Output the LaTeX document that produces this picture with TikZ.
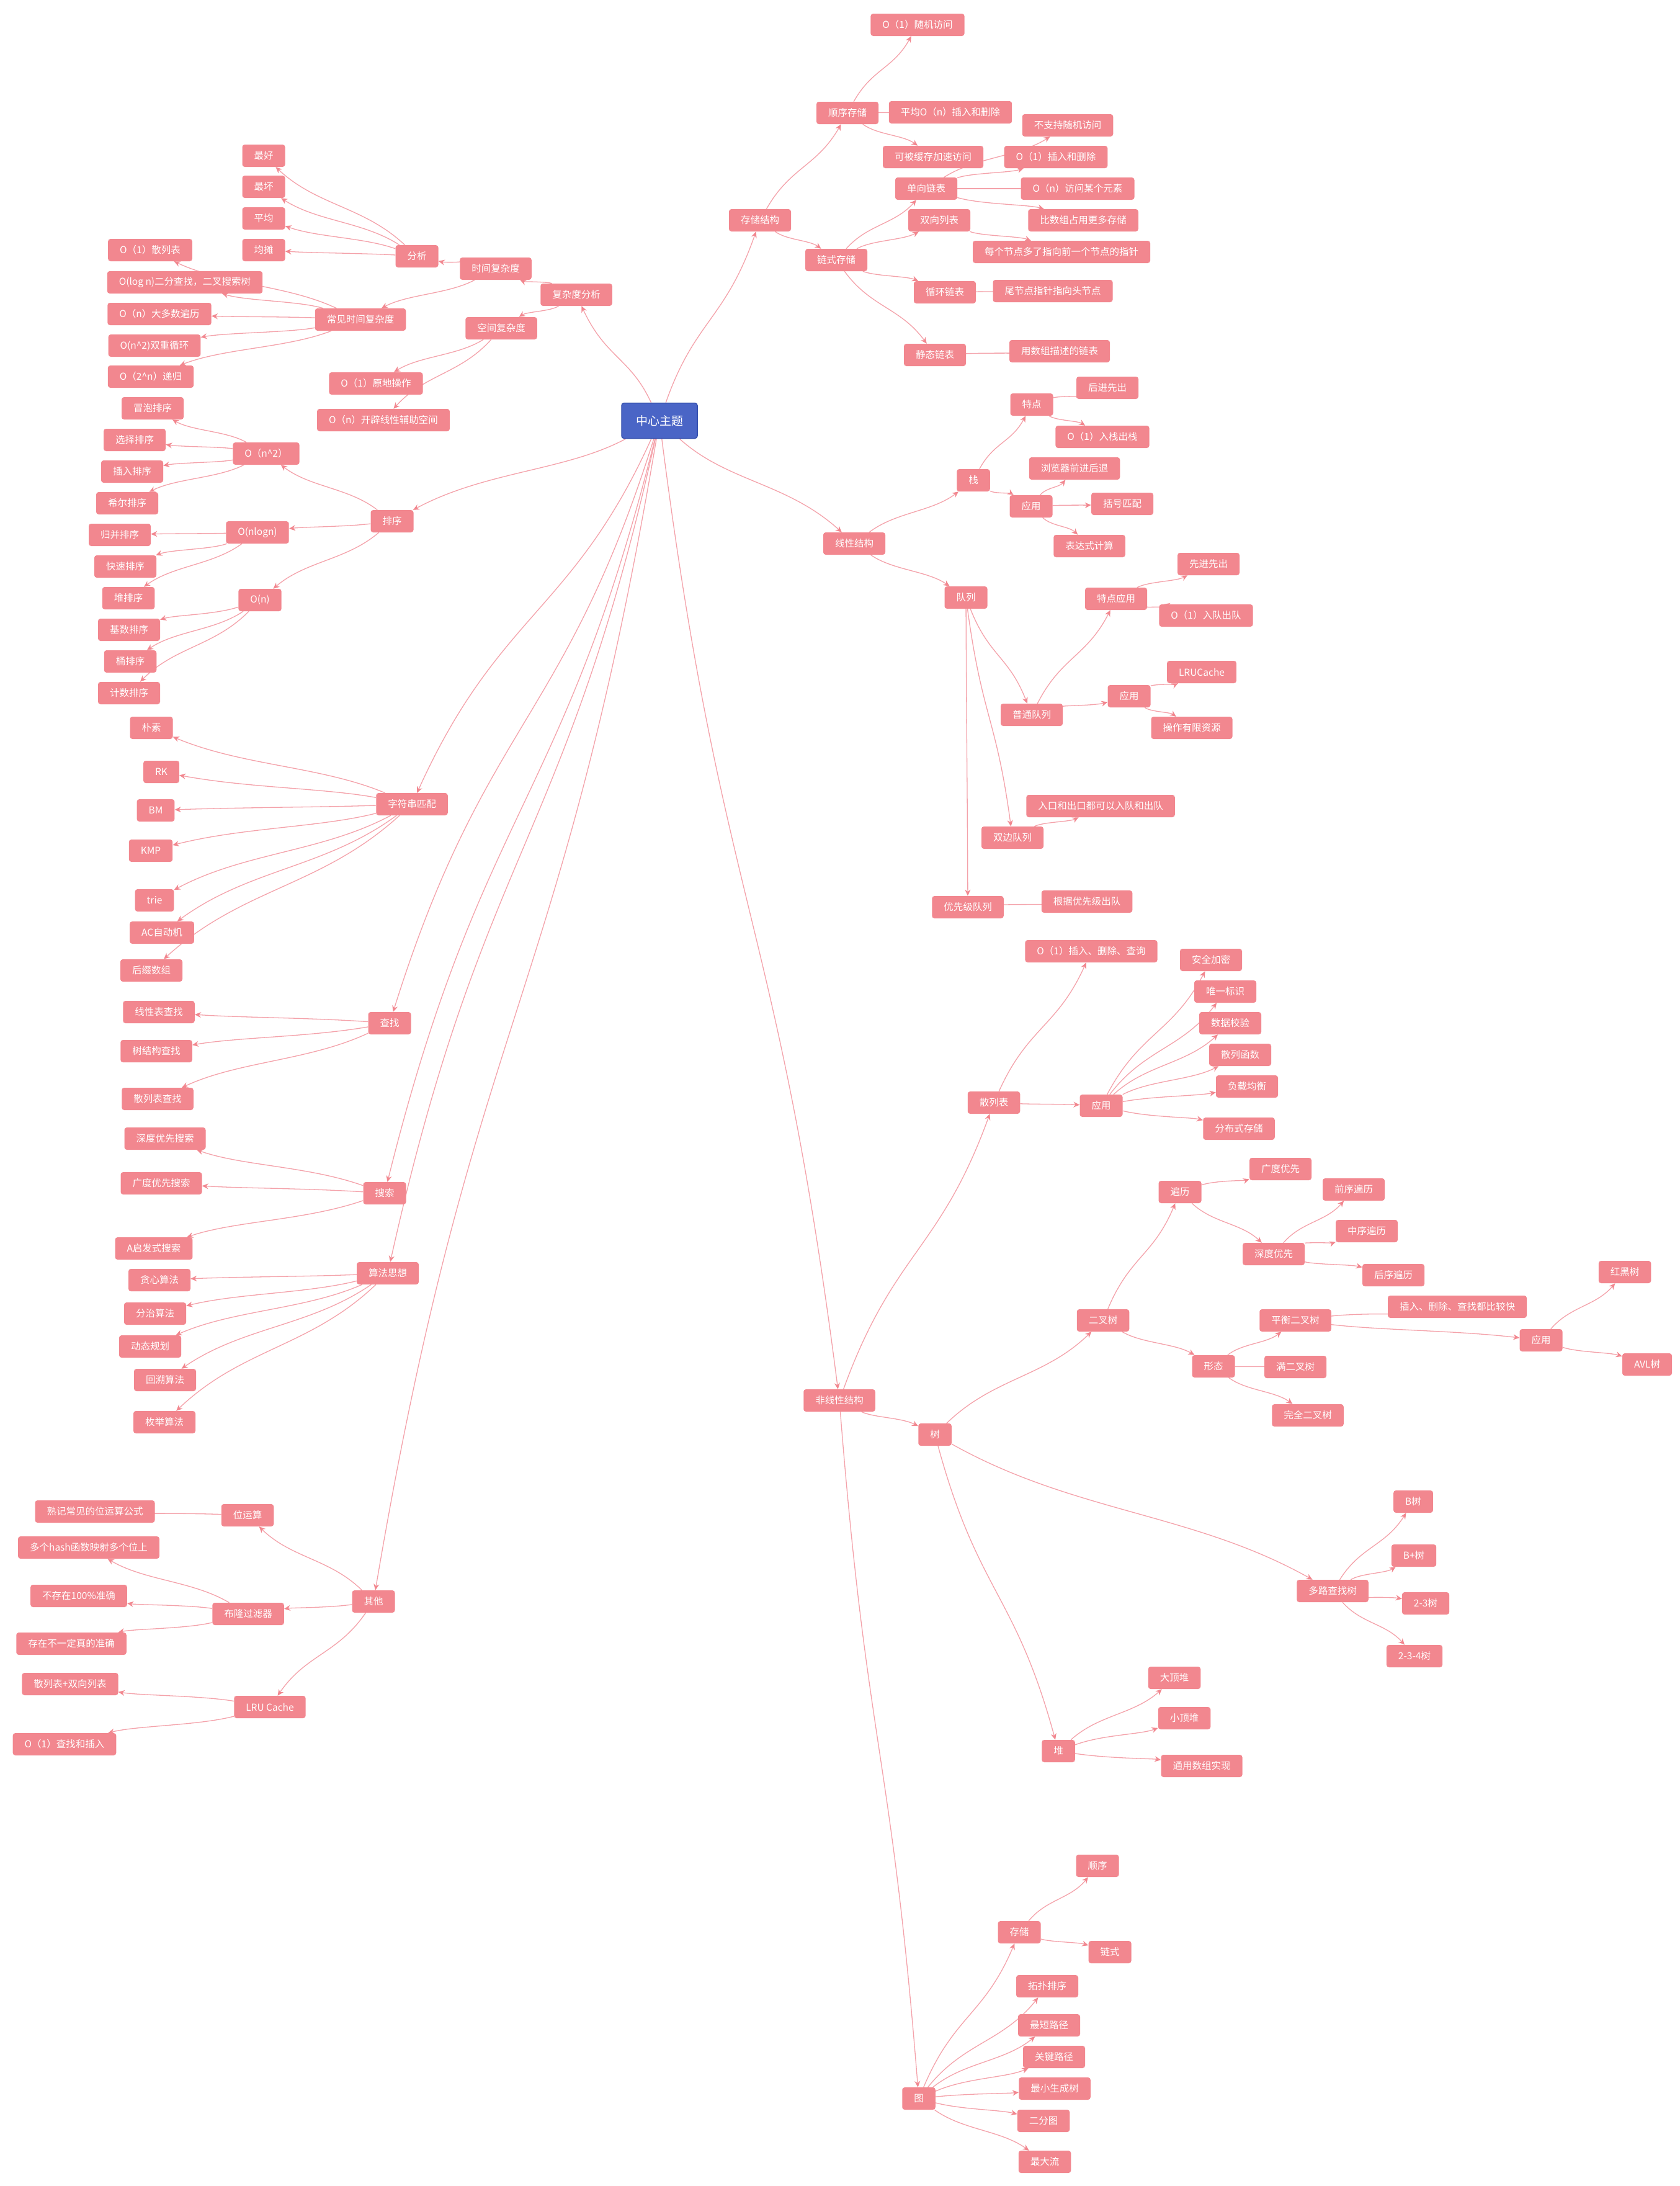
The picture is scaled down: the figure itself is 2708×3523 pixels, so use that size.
\documentclass[tikz,border=0pt]{standalone}
\usepackage{fontspec}
\setmainfont{Noto Sans CJK SC}
\usepackage{xcolor}
\definecolor{colorTopic}{HTML}{F2878F}
\definecolor{colorLink}{HTML}{F4A2AA}
\definecolor{colorRoot}{HTML}{4A65C6}
\definecolor{colorRootBorder}{HTML}{3550AE}
\usetikzlibrary{arrows.meta, calc, backgrounds}
\tikzset{
  topic/.style={rectangle, rounded corners=4pt, fill=colorTopic, text=white, font=\fontsize{15.5}{18}\selectfont, inner xsep=19pt, inner ysep=0pt, minimum height=36pt},
  root/.style={topic, fill=colorRoot, draw=colorRootBorder, line width=1.5pt, font=\fontsize{19}{22}\selectfont, minimum width=122pt, minimum height=57pt},
  link/.style={draw=colorLink, line width=1.3pt, ->, to path={let \p1=($(\tikztotarget)-(\tikztostart)$) in .. controls ($(\tikztostart)+({0.35*(\x1)},{0.5*(\y1)})$) and ($(\tikztotarget)-({0.35*(\x1)},{0.5*(\y1)})$) .. (\tikztotarget) \tikztonodes}}
}

\begin{document}
\begin{tikzpicture}[x=1pt, y=-1pt, >={Stealth[length=10pt,width=9pt,color=colorTopic]}]
\useasboundingbox (0,0) rectangle (2708,3523);
\node[root] (root) at (1063,678) {中心主题};
\node[topic] (store) at (1225,355) {存储结构};
\node[topic] (seq) at (1366,182) {顺序存储};
\node[topic] (rand) at (1479,40) {O（1）随机访问};
\node[topic] (seqins) at (1532,181) {平均O（n）插入和删除};
\node[topic] (cache) at (1504,253) {可被缓存加速访问};
\node[topic] (chain) at (1348,419) {链式存储};
\node[topic] (single) at (1493,304) {单向链表};
\node[topic] (nora) at (1721,202) {不支持随机访问};
\node[topic] (llins) at (1702,253) {O（1）插入和删除};
\node[topic] (llacc) at (1737,304) {O（n）访问某个元素};
\node[topic] (llmem) at (1746,355) {比数组占用更多存储};
\node[topic] (double) at (1514,355) {双向列表};
\node[topic] (dprev) at (1711,406) {每个节点多了指向前一个节点的指针};
\node[topic] (circ) at (1523,471) {循环链表};
\node[topic] (circd) at (1697,469) {尾节点指针指向头节点};
\node[topic] (static) at (1507,572) {静态链表};
\node[topic] (staticd) at (1708,566) {用数组描述的链表};
\node[topic] (cplx) at (929,475) {复杂度分析};
\node[topic] (timec) at (799,433) {时间复杂度};
\node[topic] (analy) at (672,413) {分析};
\node[topic] (best) at (425,251) {最好};
\node[topic] (worst) at (425,301) {最坏};
\node[topic] (avg) at (425,352) {平均};
\node[topic] (amort) at (425,403) {均摊};
\node[topic] (common) at (581,515) {常见时间复杂度};
\node[topic] (o1hash) at (242,403) {O（1）散列表};
\node[topic] (ologn) at (298,455) {O(log n)二分查找，二叉搜索树};
\node[topic] (on) at (257,506) {O（n）大多数遍历};
\node[topic] (on2) at (249,557) {O(n\textasciicircum 2)双重循环};
\node[topic] (o2n) at (243,607) {O（2\textasciicircum n）递归};
\node[topic] (space) at (808,529) {空间复杂度};
\node[topic] (sp1) at (606,618) {O（1）原地操作};
\node[topic] (spn) at (618,677) {O（n）开辟线性辅助空间};
\node[topic] (sort) at (632,840) {排序};
\node[topic] (n2) at (429,731) {O（n\textasciicircum 2）};
\node[topic] (bubble) at (246,658) {冒泡排序};
\node[topic] (select) at (217,709) {选择排序};
\node[topic] (insert) at (213,760) {插入排序};
\node[topic] (shell) at (205,811) {希尔排序};
\node[topic] (nlogn) at (415,858) {O(nlogn)};
\node[topic] (merge) at (193,862) {归并排序};
\node[topic] (quick) at (202,913) {快速排序};
\node[topic] (heaps) at (207,964) {堆排序};
\node[topic] (linn) at (419,967) {O(n)};
\node[topic] (radix) at (208,1015) {基数排序};
\node[topic] (bucket) at (210,1066) {桶排序};
\node[topic] (count) at (208,1117) {计数排序};
\node[topic] (strm) at (664,1296) {字符串匹配};
\node[topic] (naive) at (244,1173) {朴素};
\node[topic] (rk) at (260,1244) {RK};
\node[topic] (bm) at (251,1306) {BM};
\node[topic] (kmp) at (243,1371) {KMP};
\node[topic] (trie) at (249,1451) {trie};
\node[topic] (ac) at (261,1503) {AC自动机};
\node[topic] (suffix) at (244,1564) {后缀数组};
\node[topic] (find) at (628,1649) {查找};
\node[topic] (linsearch) at (256,1631) {线性表查找};
\node[topic] (treesearch) at (252,1694) {树结构查找};
\node[topic] (hashsearch) at (254,1771) {散列表查找};
\node[topic] (srch) at (620,1923) {搜索};
\node[topic] (dfs) at (266,1835) {深度优先搜索};
\node[topic] (bfs) at (260,1907) {广度优先搜索};
\node[topic] (astar) at (248,2012) {A启发式搜索};
\node[topic] (algo) at (625,2052) {算法思想};
\node[topic] (greedy) at (257,2063) {贪心算法};
\node[topic] (dc) at (250,2117) {分治算法};
\node[topic] (dp) at (242,2170) {动态规划};
\node[topic] (backtrack) at (266,2224) {回溯算法};
\node[topic] (enum) at (265,2292) {枚举算法};
\node[topic] (other) at (602,2581) {其他};
\node[topic] (bit) at (399,2442) {位运算};
\node[topic] (bitformula) at (153,2436) {熟记常见的位运算公式};
\node[topic] (bloom) at (400,2601) {布隆过滤器};
\node[topic] (multihash) at (143,2494) {多个hash函数映射多个位上};
\node[topic] (not100) at (127,2572) {不存在100\%准确};
\node[topic] (exist) at (115,2649) {存在不一定真的准确};
\node[topic] (lru) at (435,2751) {LRU Cache};
\node[topic] (hashdl) at (113,2714) {散列表+双向列表};
\node[topic] (o1find) at (104,2811) {O（1）查找和插入};
\node[topic] (linear) at (1377,876) {线性结构};
\node[topic] (stack) at (1569,774) {栈};
\node[topic] (feat) at (1663,652) {特点};
\node[topic] (lifo) at (1785,625) {后进先出};
\node[topic] (push) at (1777,704) {O（1）入栈出栈};
\node[topic] (sapp) at (1662,816) {应用};
\node[topic] (browser) at (1732,755) {浏览器前进后退};
\node[topic] (bracket) at (1809,812) {括号匹配};
\node[topic] (expr) at (1756,880) {表达式计算};
\node[topic] (queue) at (1557,963) {队列};
\node[topic] (qfeat) at (1799,965) {特点应用};
\node[topic] (fifo) at (1948,909) {先进先出};
\node[topic] (enq) at (1944,992) {O（1）入队出队};
\node[topic] (normq) at (1663,1152) {普通队列};
\node[topic] (qapp) at (1820,1122) {应用};
\node[topic] (lrucache) at (1937,1083) {LRUCache};
\node[topic] (limited) at (1921,1173) {操作有限资源};
\node[topic] (deque) at (1632,1350) {双边队列};
\node[topic] (bothend) at (1774,1299) {入口和出口都可以入队和出队};
\node[topic] (prioq) at (1560,1462) {优先级队列};
\node[topic] (byprio) at (1752,1453) {根据优先级出队};
\node[topic] (nonlinear) at (1353,2257) {非线性结构};
\node[topic] (hashn) at (1602,1777) {散列表};
\node[topic] (hash1) at (1759,1533) {O（1）插入、删除、查询};
\node[topic] (happ) at (1775,1782) {应用};
\node[topic] (secure) at (1952,1547) {安全加密};
\node[topic] (uid) at (1975,1598) {唯一标识};
\node[topic] (check) at (1983,1649) {数据校验};
\node[topic] (hfunc) at (1999,1700) {散列函数};
\node[topic] (lb) at (2010,1751) {负载均衡};
\node[topic] (dist) at (1997,1819) {分布式存储};
\node[topic] (tree) at (1507,2312) {树};
\node[topic] (bintree) at (1778,2128) {二叉树};
\node[topic] (trav) at (1902,1921) {遍历};
\node[topic] (bfs2) at (2064,1884) {广度优先};
\node[topic] (dfs2) at (2053,2021) {深度优先};
\node[topic] (pre) at (2182,1917) {前序遍历};
\node[topic] (inord) at (2203,1984) {中序遍历};
\node[topic] (post) at (2246,2055) {后序遍历};
\node[topic] (form) at (1956,2202) {形态};
\node[topic] (balanced) at (2088,2128) {平衡二叉树};
\node[topic] (fast) at (2349,2106) {插入、删除、查找都比较快};
\node[topic] (tapp) at (2484,2160) {应用};
\node[topic] (rb) at (2619,2050) {红黑树};
\node[topic] (avl) at (2655,2199) {AVL树};
\node[topic] (full) at (2088,2203) {满二叉树};
\node[topic] (complete) at (2108,2281) {完全二叉树};
\node[topic] (multi) at (2148,2564) {多路查找树};
\node[topic] (btree) at (2278,2420) {B树};
\node[topic] (bplus) at (2279,2507) {B+树};
\node[topic] (t23) at (2298,2584) {2-3树};
\node[topic] (t234) at (2280,2669) {2-3-4树};
\node[topic] (heap) at (1706,2822) {堆};
\node[topic] (maxheap) at (1893,2704) {大顶堆};
\node[topic] (minheap) at (1909,2769) {小顶堆};
\node[topic] (arrimpl) at (1937,2846) {通用数组实现};
\node[topic] (graph) at (1481,3382) {图};
\node[topic] (gstore) at (1643,3114) {存储};
\node[topic] (gseq) at (1769,3007) {顺序};
\node[topic] (gchain) at (1789,3146) {链式};
\node[topic] (topo) at (1688,3201) {拓扑排序};
\node[topic] (shortest) at (1691,3264) {最短路径};
\node[topic] (critical) at (1699,3315) {关键路径};
\node[topic] (mst) at (1700,3366) {最小生成树};
\node[topic] (bip) at (1682,3418) {二分图};
\node[topic] (maxflow) at (1684,3484) {最大流};
\begin{scope}[on background layer]
\fill[white] (0,0) rectangle (2708,3523);
\path (root) edge[link] (store) edge[link] (linear) edge[link] (cplx) edge[link] (sort) edge[link] (strm) edge[link] (find) edge[link] (srch) edge[link] (algo) edge[link] (other) edge[link] (nonlinear);
\path (store) edge[link] (seq) edge[link] (chain);
\path (seq) edge[link] (rand) edge[link] (seqins) edge[link] (cache);
\path (chain) edge[link] (single) edge[link] (double) edge[link] (circ) edge[link] (static);
\path (single) edge[link] (nora) edge[link] (llins) edge[link] (llacc) edge[link] (llmem);
\path (double) edge[link] (dprev);
\path (circ) edge[link] (circd);
\path (static) edge[link] (staticd);
\path (cplx) edge[link] (timec) edge[link] (space);
\path (timec) edge[link] (analy) edge[link] (common);
\path (analy) edge[link] (best) edge[link] (worst) edge[link] (avg) edge[link] (amort);
\path (common) edge[link] (o1hash) edge[link] (ologn) edge[link] (on) edge[link] (on2) edge[link] (o2n);
\path (space) edge[link] (sp1) edge[link] (spn);
\path (sort) edge[link] (n2) edge[link] (nlogn) edge[link] (linn);
\path (n2) edge[link] (bubble) edge[link] (select) edge[link] (insert) edge[link] (shell);
\path (nlogn) edge[link] (merge) edge[link] (quick) edge[link] (heaps);
\path (linn) edge[link] (radix) edge[link] (bucket) edge[link] (count);
\path (strm) edge[link] (naive) edge[link] (rk) edge[link] (bm) edge[link] (kmp) edge[link] (trie) edge[link] (ac) edge[link] (suffix);
\path (find) edge[link] (linsearch) edge[link] (treesearch) edge[link] (hashsearch);
\path (srch) edge[link] (dfs) edge[link] (bfs) edge[link] (astar);
\path (algo) edge[link] (greedy) edge[link] (dc) edge[link] (dp) edge[link] (backtrack) edge[link] (enum);
\path (other) edge[link] (bit) edge[link] (bloom) edge[link] (lru);
\path (bit) edge[link] (bitformula);
\path (bloom) edge[link] (multihash) edge[link] (not100) edge[link] (exist);
\path (lru) edge[link] (hashdl) edge[link] (o1find);
\path (linear) edge[link] (stack) edge[link] (queue);
\path (stack) edge[link] (feat) edge[link] (sapp);
\path (feat) edge[link] (lifo) edge[link] (push);
\path (sapp) edge[link] (browser) edge[link] (bracket) edge[link] (expr);
\path (queue) edge[link] (normq) edge[link] (deque) edge[link] (prioq);
\path (normq) edge[link] (qfeat) edge[link] (qapp);
\path (qfeat) edge[link] (fifo) edge[link] (enq);
\path (qapp) edge[link] (lrucache) edge[link] (limited);
\path (deque) edge[link] (bothend);
\path (prioq) edge[link] (byprio);
\path (nonlinear) edge[link] (hashn) edge[link] (tree) edge[link] (graph);
\path (hashn) edge[link] (hash1) edge[link] (happ);
\path (happ) edge[link] (secure) edge[link] (uid) edge[link] (check) edge[link] (hfunc) edge[link] (lb) edge[link] (dist);
\path (tree) edge[link] (bintree) edge[link] (multi) edge[link] (heap);
\path (bintree) edge[link] (trav) edge[link] (form);
\path (trav) edge[link] (bfs2) edge[link] (dfs2);
\path (dfs2) edge[link] (pre) edge[link] (inord) edge[link] (post);
\path (form) edge[link] (balanced) edge[link] (full) edge[link] (complete);
\path (balanced) edge[link] (fast) edge[link] (tapp);
\path (tapp) edge[link] (rb) edge[link] (avl);
\path (multi) edge[link] (btree) edge[link] (bplus) edge[link] (t23) edge[link] (t234);
\path (heap) edge[link] (maxheap) edge[link] (minheap) edge[link] (arrimpl);
\path (graph) edge[link] (gstore) edge[link] (topo) edge[link] (shortest) edge[link] (critical) edge[link] (mst) edge[link] (bip) edge[link] (maxflow);
\path (gstore) edge[link] (gseq) edge[link] (gchain);
\end{scope}
\end{tikzpicture}
\end{document}
